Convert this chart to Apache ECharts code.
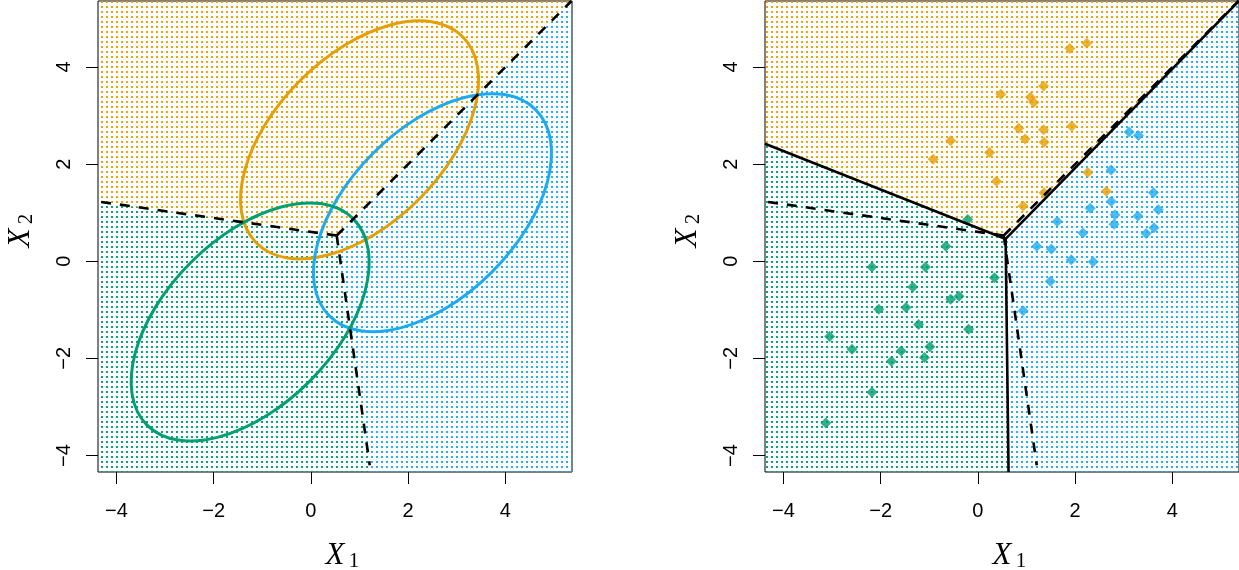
<!DOCTYPE html>
<html><head><meta charset="utf-8">
<script src="https://cdn.jsdelivr.net/npm/echarts@6/dist/echarts.min.js"></script>
<style>html,body{margin:0;padding:0;background:#fff}#c{width:1239px;height:570px}</style>
</head><body><div id="c"></div>
<script>
// ---- axis ranges & ticks ----
const xMin = -4.38, xMax = 5.37, yMin = -4.34, yMax = 5.36;
const tickValues = [-4, -2, 0, 2, 4];

// ---- colours (orange, blue, green) ----
const colOrange = '#E69F00';
const colBlue = '#1EAAF1';
const colGreen = '#009E73';

// ---- observations (right panel) ----
const orangePoints = [
  [1.89, 4.38], [2.24, 4.49], [1.35, 3.61], [0.47, 3.44], [1.08, 3.38], [1.15, 3.27],
  [1.93, 2.78], [0.84, 2.74], [1.35, 2.71], [0.97, 2.52], [1.36, 2.45], [-0.56, 2.48],
  [0.24, 2.24], [-0.92, 2.10], [0.38, 1.65], [2.26, 1.83], [2.64, 1.44], [1.36, 1.41],
  [0.93, 1.14]
];
const bluePoints = [
  [3.11, 2.66], [3.30, 2.59], [2.74, 1.88], [3.61, 1.41], [2.74, 1.23], [2.31, 1.09],
  [3.71, 1.06], [2.82, 0.96], [3.29, 0.93], [2.80, 0.76], [3.62, 0.69], [3.46, 0.57],
  [1.63, 0.82], [2.16, 0.58], [1.21, 0.31], [1.51, 0.25], [1.92, 0.03], [2.37, -0.01],
  [1.49, -0.41], [0.93, -1.02]
];
const greenPoints = [
  [-0.21, 0.86], [-0.66, 0.31], [-2.18, -0.12], [-1.08, -0.12], [0.34, -0.34], [-1.34, -0.53],
  [-0.56, -0.78], [-0.39, -0.72], [-2.04, -0.99], [-1.48, -0.95], [-1.22, -1.30], [-0.19, -1.40],
  [-3.05, -1.55], [-2.59, -1.81], [-0.99, -1.76], [-1.58, -1.85], [-1.78, -2.06], [-1.10, -1.98],
  [-2.18, -2.70], [-3.13, -3.33]
];

// ---- 95% contours (left panel): centre, semi-axes, tilt ----
const ellipseOrange = [1.0, 2.5];
const ellipseBlue = [2.5, 1.0];
const ellipseGreen = [-1.25, -1.25];
const ellipseAxes = [3.0, 1.73];
const ellipseAngleDeg = 45;

// ---- decision boundaries ----
const bayesJoin = [0.53, 0.53];
const bayesEnds = [[-4.38, 1.23], [5.36, 5.36], [1.21, -4.2]];
const ldaJoin = [0.57, 0.46];
const ldaEnds = [[-4.38, 2.42], [5.37, 5.36], [0.63, -4.34]];

// ---- class regions (dotted backgrounds) ----
const bayesOrangeRegion = [[-4.38, 1.23], [0.53, 0.53], [5.36, 5.36], [-4.38, 5.36]];
const bayesBlueRegion = [[0.53, 0.53], [5.36, 5.36], [5.37, 5.36], [5.37, -4.34], [1.23, -4.34]];
const bayesGreenRegion = [[-4.38, 1.23], [0.53, 0.53], [1.23, -4.34], [-4.38, -4.34]];
const ldaOrangeRegion = [[-4.38, 2.42], [0.57, 0.46], [5.37, 5.36], [-4.38, 5.36]];
const ldaBlueRegion = [[0.57, 0.46], [5.37, 5.36], [5.37, -4.34], [0.63, -4.34]];
const ldaGreenRegion = [[-4.38, 2.42], [0.57, 0.46], [0.63, -4.34], [-4.38, -4.34]];

// ---------------------------------------------------------------
const patternCache = {};
function dotPattern(color) {
  if (patternCache[color]) return patternCache[color];
  const c = document.createElement('canvas');
  c.width = 5; c.height = 5;
  const ctx = c.getContext('2d');
  ctx.fillStyle = color;
  ctx.globalAlpha = 0.95;
  ctx.fillRect(1, 1, 2, 2);
  patternCache[color] = { image: c, repeat: 'repeat' };
  return patternCache[color];
}

function regionSeries(gi, poly, color) {
  return {
    type: 'custom', xAxisIndex: gi, yAxisIndex: gi, data: poly, silent: true, z: 1,
    renderItem: function (params, api) {
      if (params.dataIndex !== 0) return;
      const pts = poly.map(p => api.coord(p));
      return { type: 'polygon', shape: { points: pts }, style: { fill: dotPattern(color), stroke: 'none' } };
    }
  };
}

function ellipseSeries(gi, center, color) {
  return {
    type: 'custom', xAxisIndex: gi, yAxisIndex: gi, data: [center], silent: true, z: 3,
    renderItem: function (params, api) {
      const c = api.coord([api.value(0), api.value(1)]);
      const s = api.size([1, 1]);
      return {
        type: 'ellipse', x: c[0], y: c[1], rotation: ellipseAngleDeg * Math.PI / 180,
        shape: { cx: 0, cy: 0, rx: ellipseAxes[0] * s[0], ry: ellipseAxes[1] * s[1] },
        style: { fill: 'none', stroke: color, lineWidth: 3 }
      };
    }
  };
}

function segSeries(gi, a, b, dashed) {
  return {
    type: 'line', xAxisIndex: gi, yAxisIndex: gi, data: [a, b], symbol: 'none', silent: true, z: 5,
    lineStyle: { color: '#000', width: 2.6, type: dashed ? [10, 9] : 'solid' }
  };
}

function pointSeries(pts, color) {
  return {
    type: 'scatter', xAxisIndex: 1, yAxisIndex: 1, data: pts, symbol: 'diamond', symbolSize: 11,
    itemStyle: { color: color }, z: 4, silent: true
  };
}

const fmt = v => (v < 0 ? '\u2212' + Math.abs(v) : String(v));

const series = [];
series.push(regionSeries(0, bayesOrangeRegion, colOrange));
series.push(regionSeries(0, bayesBlueRegion, colBlue));
series.push(regionSeries(0, bayesGreenRegion, colGreen));
series.push(regionSeries(1, ldaOrangeRegion, colOrange));
series.push(regionSeries(1, ldaBlueRegion, colBlue));
series.push(regionSeries(1, ldaGreenRegion, colGreen));
series.push(ellipseSeries(0, ellipseOrange, colOrange));
series.push(ellipseSeries(0, ellipseBlue, colBlue));
series.push(ellipseSeries(0, ellipseGreen, colGreen));
series.push(pointSeries(orangePoints, colOrange));
series.push(pointSeries(bluePoints, colBlue));
series.push(pointSeries(greenPoints, colGreen));
bayesEnds.forEach(e => { series.push(segSeries(0, bayesJoin, e, true)); series.push(segSeries(1, bayesJoin, e, true)); });
ldaEnds.forEach(e => series.push(segSeries(1, ldaJoin, e, false)));

const gridLefts = [98, 765];
const titleFont = { fontFamily: 'Liberation Serif', fill: '#000', align: 'center', verticalAlign: 'middle' };
function xTitle(cx, sub) {
  return {
    type: 'group', x: cx, y: 556, children: [
      { type: 'text', x: 0, y: 0, style: Object.assign({ text: 'X', fontSize: 31, fontStyle: 'italic' }, titleFont) },
      { type: 'text', x: 19, y: 5, style: Object.assign({ text: sub, fontSize: 21 }, titleFont) }
    ]
  };
}
function yTitle(cx, sub) {
  return {
    type: 'group', x: cx, y: 238, rotation: Math.PI / 2, children: [
      { type: 'text', x: 0, y: 0, style: Object.assign({ text: 'X', fontSize: 31, fontStyle: 'italic' }, titleFont) },
      { type: 'text', x: 19, y: 5, style: Object.assign({ text: sub, fontSize: 21 }, titleFont) }
    ]
  };
}

const option = {
  animation: false,
  backgroundColor: '#fff',
  grid: gridLefts.map(l => ({ left: l, top: 1, width: 474, height: 471, show: true, borderColor: '#000', borderWidth: 1, backgroundColor: '#fff' })),
  xAxis: [0, 1].map(i => ({
    gridIndex: i, type: 'value', min: xMin, max: xMax, position: 'bottom',
    axisLine: { show: false, onZero: false }, splitLine: { show: false },
    axisTick: { show: true, inside: false, length: 12, lineStyle: { color: '#000', width: 1 }, customValues: tickValues },
    axisLabel: { customValues: tickValues, formatter: fmt, color: '#000', fontSize: 20, fontFamily: 'Liberation Sans', margin: 29 }
  })),
  yAxis: [0, 1].map(i => ({
    gridIndex: i, type: 'value', min: yMin, max: yMax, position: 'left',
    axisLine: { show: false, onZero: false }, splitLine: { show: false },
    axisTick: { show: true, inside: false, length: 12, lineStyle: { color: '#000', width: 1 }, customValues: tickValues },
    axisLabel: { customValues: tickValues, formatter: fmt, color: '#000', fontSize: 20, fontFamily: 'Liberation Sans', margin: 24, rotate: 90 }
  })),
  graphic: [xTitle(335, '1'), xTitle(1002, '1'), yTitle(21, '2'), yTitle(688, '2')],
  series: series
};

const chart = echarts.init(document.getElementById('c'), null, { renderer: 'canvas' });
chart.setOption(option);
</script>
</body></html>
